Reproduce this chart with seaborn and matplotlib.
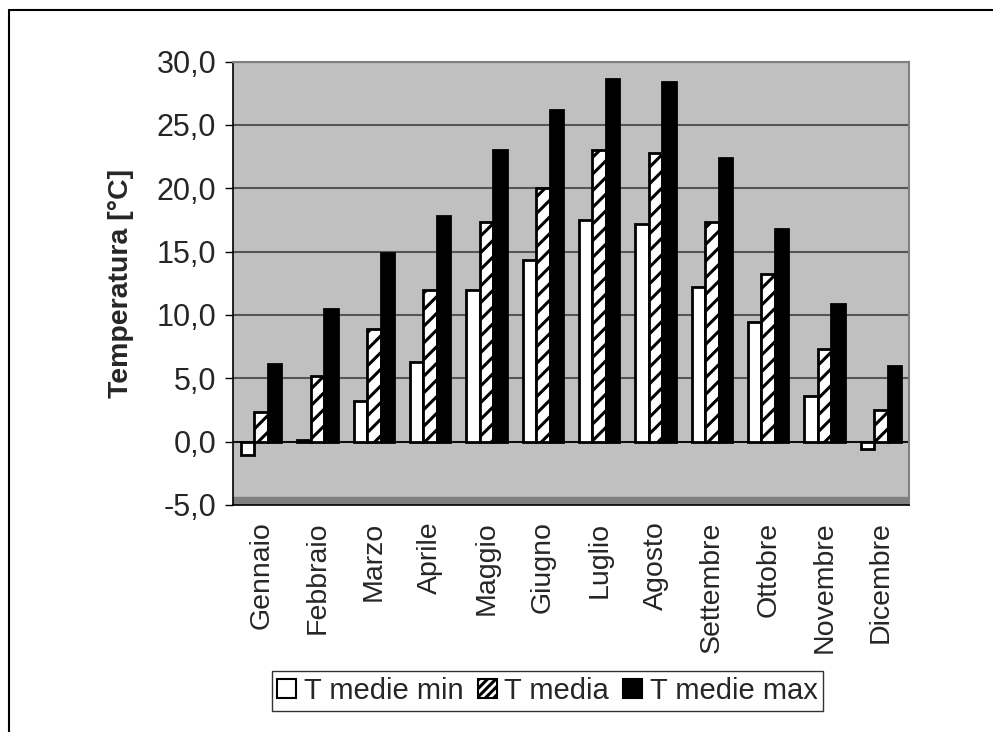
import matplotlib
matplotlib.use('Agg')
import matplotlib.pyplot as plt
import seaborn as sns
import pandas as pd
from matplotlib.lines import Line2D
from matplotlib.patches import Patch

# ---- data ----
months = ["Gennaio", "Febbraio", "Marzo", "Aprile", "Maggio", "Giugno",
          "Luglio", "Agosto", "Settembre", "Ottobre", "Novembre", "Dicembre"]
series = ["T medie min", "T media", "T medie max"]
t_min = [-1.1, 0.1, 3.2, 6.3, 12.0, 14.3, 17.5, 17.2, 12.2, 9.4, 3.6, -0.6]
t_med = [2.3, 5.2, 8.9, 12.0, 17.3, 20.0, 23.0, 22.8, 17.3, 13.2, 7.3, 2.5]
t_max = [6.1, 10.5, 14.9, 17.8, 23.0, 26.2, 28.6, 28.4, 22.4, 16.8, 10.9, 6.0]
yticks = [-5, 0, 5, 10, 15, 20, 25, 30]
ytick_labels = ["-5,0", "0,0", "5,0", "10,0", "15,0", "20,0", "25,0", "30,0"]
ylabel = "Temperatura [°C]"

df = pd.DataFrame({
    "Mese": months * 3,
    "Serie": [series[0]] * 12 + [series[1]] * 12 + [series[2]] * 12,
    "T": t_min + t_med + t_max,
})

sns.set_style("white")
plt.rcParams['font.family'] = ['Liberation Sans', 'DejaVu Sans']
plt.rcParams['hatch.linewidth'] = 2.2
plt.rcParams['hatch.color'] = 'black'

fig = plt.figure(figsize=(9.93, 7.32), dpi=100)
ax = fig.add_axes([233 / 993, 1 - 504.8 / 732, 676 / 993, (504.8 - 61.7) / 732])
ax.set_facecolor('#c0c0c0')

sns.barplot(data=df, x="Mese", y="T", hue="Serie", order=months, hue_order=series,
            palette=['white', 'white', 'black'], saturation=1, edgecolor='black',
            linewidth=2.0, width=0.72, legend=False, ax=ax, zorder=3)

for bar in ax.containers[1]:
    bar.set_hatch('//')

ax.set_ylim(-5, 30)
ax.set_xlim(-0.5, len(months) - 0.5)
ax.set_yticks(yticks)
ax.set_yticklabels(ytick_labels, fontsize=22)
ax.set_xticks(range(len(months)))
ax.set_xticklabels(months, rotation=90, fontsize=20.5, va='top')
ax.set_xticks([i - 0.5 for i in range(len(months) + 1)], minor=True)
ax.tick_params(axis='x', which='major', length=0, pad=12)
ax.tick_params(axis='x', which='minor', length=8, width=1, direction='out', color='black')
ax.tick_params(axis='y', length=6, width=1, direction='out', color='black', pad=6, left=True)
ax.set_xlabel("")
ax.set_ylabel(ylabel, fontsize=20.5, fontweight='bold', labelpad=16)

ax.yaxis.grid(True, color='#555555', lw=1.5, zorder=1)
ax.set_axisbelow(True)
ax.axhspan(-5, -4.4, color='#808080', zorder=1.5)
ax.axhline(0, color='black', lw=1.2, zorder=2)

for side in ['left', 'bottom']:
    ax.spines[side].set_color('black')
    ax.spines[side].set_linewidth(1.2)
for side in ['top', 'right']:
    ax.spines[side].set_color('#808080')
    ax.spines[side].set_linewidth(1.5)

handles = [
    Patch(facecolor='white', edgecolor='black', linewidth=1.5, label=series[0]),
    Patch(facecolor='white', edgecolor='black', linewidth=1.5, hatch='////', label=series[1]),
    Patch(facecolor='black', edgecolor='black', linewidth=1.5, label=series[2]),
]
leg = fig.legend(handles=handles, loc='center', bbox_to_anchor=(547.5 / 993, 1 - 691 / 732),
                 ncol=3, fontsize=21, frameon=True, fancybox=False, shadow=False,
                 handlelength=0.65, handleheight=0.65, handletextpad=0.25,
                 columnspacing=0.5, borderpad=0.2, borderaxespad=0)
leg.get_frame().set_edgecolor('black')
leg.get_frame().set_linewidth(1.0)

# outer chart border
fig.add_artist(Line2D([9 / 993, 9 / 993], [0, 1 - 10 / 732], transform=fig.transFigure,
                      color='black', lw=1.5))
fig.add_artist(Line2D([9 / 993, 1], [1 - 10 / 732, 1 - 10 / 732], transform=fig.transFigure,
                      color='black', lw=1.5))

fig.savefig('out.png', dpi=100)
